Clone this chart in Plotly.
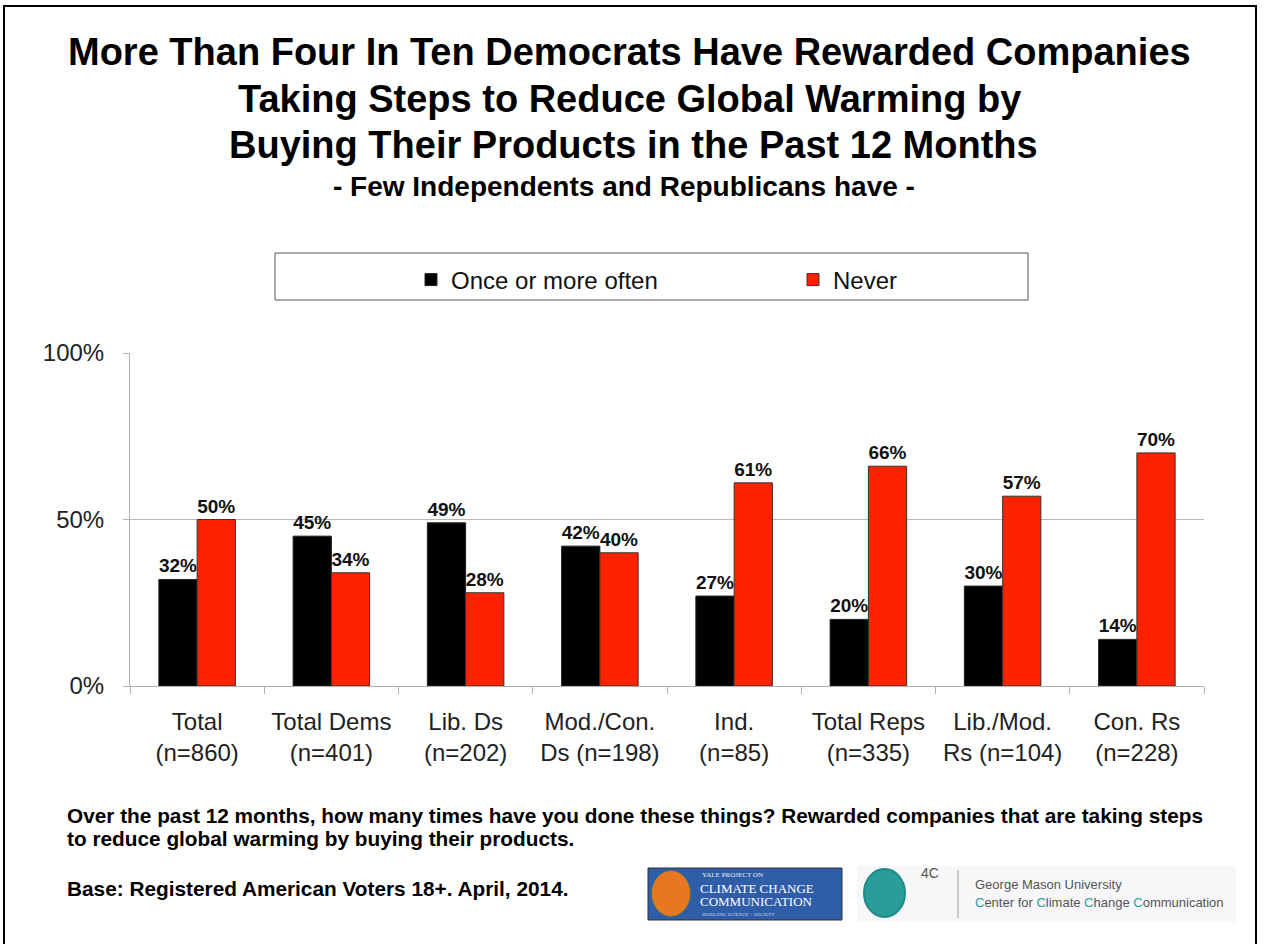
import plotly.graph_objects as go

categories = ["Total<br>(n=860)", "Total Dems<br>(n=401)", "Lib. Ds<br>(n=202)", "Mod./Con.<br>Ds (n=198)",
              "Ind.<br>(n=85)", "Total Reps<br>(n=335)", "Lib./Mod.<br>Rs (n=104)", "Con. Rs<br>(n=228)"]
once_or_more = [32, 45, 49, 42, 27, 20, 30, 14]
never = [50, 34, 28, 40, 61, 66, 57, 70]
y_ticks = [0, 50, 100]
y_tick_labels = ["0%", "50%", "100%"]

W, H = 1264, 944
L, R, T, B = 130, 60, 353, 258
PW, PH = W - L - R, H - T - B

def px(x):
    return (x - L) / PW

def py(y):
    return (H - B - y) / PH

FONT = "Liberation Sans, Arial, Helvetica, sans-serif"

fig = go.Figure()
fig.add_trace(go.Bar(
    x=categories, y=once_or_more, name="Once or more often",
    marker=dict(color="#000000", line=dict(color="#222222", width=1)),
    text=[f"<b>{v}%</b>" for v in once_or_more], textposition="outside",
    textfont=dict(family=FONT, size=19, color="#111111"), cliponaxis=False,
))
fig.add_trace(go.Bar(
    x=categories, y=never, name="Never",
    marker=dict(color="#FF2200", line=dict(color="#333333", width=1)),
    text=[f"<b>{v}%</b>" for v in never], textposition="outside",
    textfont=dict(family=FONT, size=19, color="#111111"), cliponaxis=False,
))

fig.update_layout(
    width=W, height=H,
    margin=dict(l=L, r=R, t=T, b=B, autoexpand=False),
    paper_bgcolor="white", plot_bgcolor="white",
    barmode="group", bargap=0.43, bargroupgap=0,
    font=dict(family=FONT, color="#222222"),
    showlegend=True,
    hovermode=False,
    legend=dict(
        orientation="h", x=px(411), y=py(280), xanchor="left", yanchor="middle",
        font=dict(family=FONT, size=24, color="#111111"),
        entrywidth=337, entrywidthmode="pixels", bgcolor="rgba(0,0,0,0)",
        itemclick=False, itemdoubleclick=False, traceorder="normal",
    ),
    xaxis=dict(
        type="category", showgrid=False, showline=True, linecolor="#B0B0B0", linewidth=1,
        ticks="outside", tickson="boundaries", ticklen=7, tickcolor="#B0B0B0",
        ticklabelstandoff=14,
        tickfont=dict(family=FONT, size=24, color="#222222"),
    ),
    yaxis=dict(
        range=[0, 100], tickvals=y_ticks, ticktext=y_tick_labels,
        showgrid=True, gridcolor="#B8B8B8", gridwidth=1,
        showline=True, linecolor="#B0B0B0", linewidth=1,
        ticks="outside", ticklen=6, tickcolor="#B0B0B0",
        ticklabelstandoff=14,
        tickfont=dict(family=FONT, size=24, color="#222222"),
        zeroline=False,
    ),
)

shapes = []
# outer frame
shapes.append(dict(type="rect", xref="paper", yref="paper",
                   x0=px(4), x1=px(1256), y0=py(950), y1=py(6),
                   line=dict(color="black", width=2), fillcolor="rgba(0,0,0,0)", layer="below"))
# legend box
shapes.append(dict(type="rect", xref="paper", yref="paper",
                   x0=px(275), x1=px(1028), y0=py(300), y1=py(253),
                   line=dict(color="#555555", width=1), fillcolor="rgba(0,0,0,0)"))
# logo strip
shapes.append(dict(type="rect", xref="paper", yref="paper",
                   x0=px(857), x1=px(1236), y0=py(922), y1=py(866),
                   line=dict(width=0), fillcolor="#F7F7F9", layer="below"))
# Yale logo box
shapes.append(dict(type="rect", xref="paper", yref="paper",
                   x0=px(648), x1=px(842), y0=py(920), y1=py(868),
                   line=dict(color="#333333", width=1), fillcolor="#2F5DA8"))
shapes.append(dict(type="circle", xref="paper", yref="paper",
                   x0=px(652), x1=px(690), y0=py(916), y1=py(871),
                   line=dict(color="#B8860B", width=1), fillcolor="#E87722"))
# 4C circle
shapes.append(dict(type="circle", xref="paper", yref="paper",
                   x0=px(864), x1=px(905), y0=py(917), y1=py(869),
                   line=dict(color="#1F8A8A", width=2), fillcolor="#2A9D9A"))
# separator
shapes.append(dict(type="line", xref="paper", yref="paper",
                   x0=px(958), x1=px(958), y0=py(918), y1=py(870),
                   line=dict(color="#999999", width=1)))
fig.update_layout(shapes=shapes)

def ann(text, x, y, size, bold=False, color="#000000", xanchor="center", family=FONT):
    fig.add_annotation(text=f"<b>{text}</b>" if bold else text, x=px(x), y=py(y),
                       xref="paper", yref="paper", xanchor=xanchor, yanchor="middle",
                       showarrow=False, font=dict(family=family, size=size, color=color))

ann("More Than Four In Ten Democrats Have Rewarded Companies", 629, 52, 38, True)
ann("Taking Steps to Reduce Global Warming by", 629, 99, 38, True)
ann("Buying Their Products in the Past 12 Months", 633, 145, 38, True)
ann("- Few Independents and Republicans have -", 624, 186, 28, True)

ann("Over the past 12 months, how many times have you done these things? Rewarded companies that are taking steps",
    65, 815, 20.8, True, xanchor="left")
ann("to reduce global warming by buying their products.", 65, 838, 20.8, True, xanchor="left")
ann("Base: Registered American Voters 18+. April, 2014.", 65, 888, 20.8, True, xanchor="left")

# logo texts
ann("YALE PROJECT ON", 700, 875, 7, color="#E8ECF5", xanchor="left", family="Liberation Serif, serif")
ann("CLIMATE CHANGE", 698, 888, 13, color="white", xanchor="left", family="Liberation Serif, serif")
ann("COMMUNICATION", 698, 901, 13, color="white", xanchor="left", family="Liberation Serif, serif")
ann("BRIDGING SCIENCE + SOCIETY", 700, 914, 5, color="#C8D4EA", xanchor="left", family="Liberation Serif, serif")
ann("4C", 930, 873, 14, color="#555555")
ann("George Mason University", 973, 884, 13, color="#555555", xanchor="left")
ann("<span style='color:#2A9D9A'>C</span>enter for <span style='color:#2A9D9A'>C</span>limate "
    "<span style='color:#2A9D9A'>C</span>hange <span style='color:#2A9D9A'>C</span>ommunication",
    973, 902, 13, color="#555555", xanchor="left")

fig.write_html("out.html", config={"displayModeBar": False},
               post_script="document.body.style.margin='0px';document.body.style.overflow='hidden';")
